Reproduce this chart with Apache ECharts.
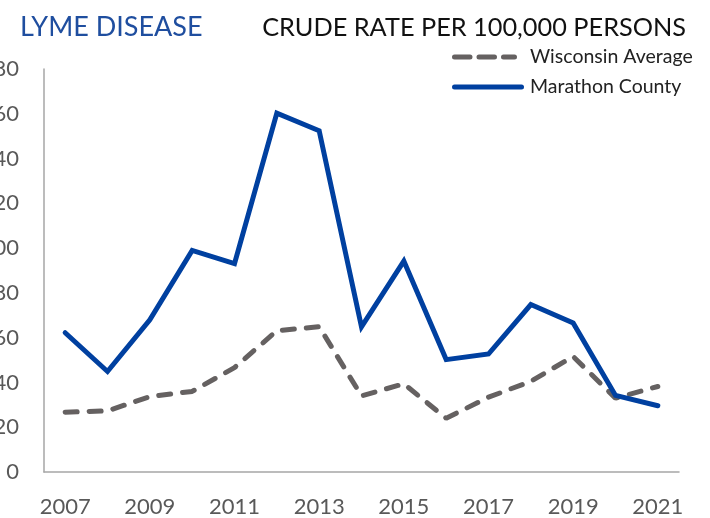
<!DOCTYPE html>
<html>
<head>
<meta charset="utf-8">
<script src="https://cdn.jsdelivr.net/npm/echarts@6/dist/echarts.min.js"></script>
<style>html,body{margin:0;padding:0;background:#fff}#c{width:710px;height:518px}</style>
</head>
<body>
<div id="c"></div>
<script>
const years = ['2007','2008','2009','2010','2011','2012','2013','2014','2015','2016','2017','2018','2019','2020','2021'];
const wisconsinAverage = [26.7, 27.3, 33.7, 36, 46.6, 63.1, 64.9, 34, 39.4, 24, 33.4, 40.5, 51.6, 33, 38.2];
const marathonCounty = [62.2, 44.9, 68, 99, 93.1, 160.3, 152.4, 64.8, 94.2, 50.2, 52.7, 74.8, 66.6, 34.2, 29.6];
const yTicks = { min: 0, max: 180, step: 20 };

const GRAY = '#656161';
const BLUE = '#0040a0';
// rounded-cap dash segments for legend icons (shape only)
function capsule(x, w) {
  return 'M' + (x + 2.5) + ',0 h' + (w - 5) + ' a2.5,2.5 0 0 1 0,5 h' + (-(w - 5)) + ' a2.5,2.5 0 0 1 0,-5 z ';
}
const dashIcon = 'path://' + capsule(0, 20.5) + capsule(24.5, 20.5) + capsule(49, 16);
const solidIcon = 'path://' + capsule(0, 72);

const chart = echarts.init(document.getElementById('c'), null, { renderer: 'canvas' });
const font = 'Lato, "Open Sans", sans-serif';
const legendText = { fontFamily: font, fontSize: 19.5, color: '#222222' };
chart.setOption({
  animation: false,
  backgroundColor: '#ffffff',
  title: [
    { text: 'LYME DISEASE', left: 15, top: 9,
      textStyle: { fontFamily: font, fontWeight: 'normal', fontSize: 27, color: '#1f4e9f', lineHeight: 27 } },
    { text: 'CRUDE RATE PER 100,000 PERSONS', right: 19, top: 10,
      textStyle: { fontFamily: font, fontWeight: 'normal', fontSize: 25.3, color: '#111111', lineHeight: 25 } }
  ],
  legend: [
    { left: 452, top: 47, padding: 0, itemWidth: 65, itemHeight: 5, selectedMode: false,
      textStyle: Object.assign({ padding: [0, 0, 0, 8] }, legendText),
      data: [{ name: 'Wisconsin Average', icon: dashIcon, itemStyle: { color: GRAY } }] },
    { left: 452, top: 77, padding: 0, itemWidth: 72, itemHeight: 5, selectedMode: false,
      textStyle: Object.assign({ padding: [0, 0, 0, 1] }, legendText),
      data: [{ name: 'Marathon County', icon: solidIcon, itemStyle: { color: BLUE } }] }
  ],
  grid: { left: 44, right: 31, top: 69, bottom: 46, containLabel: false, outerBoundsMode: 'none' },
  xAxis: {
    type: 'category',
    data: years,
    boundaryGap: true,
    axisLine: { lineStyle: { color: '#a6a6a6', width: 1.5 } },
    axisTick: { show: false },
    axisLabel: { interval: 1, margin: 24, fontFamily: font, fontSize: 22, color: '#595959' }
  },
  yAxis: {
    type: 'value',
    min: yTicks.min, max: yTicks.max, interval: yTicks.step,
    axisLine: { show: true, lineStyle: { color: '#a6a6a6', width: 1.5 } },
    axisTick: { show: false },
    splitLine: { show: false },
    axisLabel: { margin: 25, fontFamily: font, fontSize: 22, color: '#595959' }
  },
  series: [
    { name: 'Wisconsin Average', type: 'line', data: wisconsinAverage, symbol: 'none',
      lineStyle: { color: GRAY, width: 5, type: [12, 12], cap: 'round' },
      itemStyle: { color: GRAY } },
    { name: 'Marathon County', type: 'line', data: marathonCounty, symbol: 'none',
      lineStyle: { color: BLUE, width: 5, cap: 'round', join: 'miter' },
      itemStyle: { color: BLUE } }
  ]
});
</script>
</body>
</html>
